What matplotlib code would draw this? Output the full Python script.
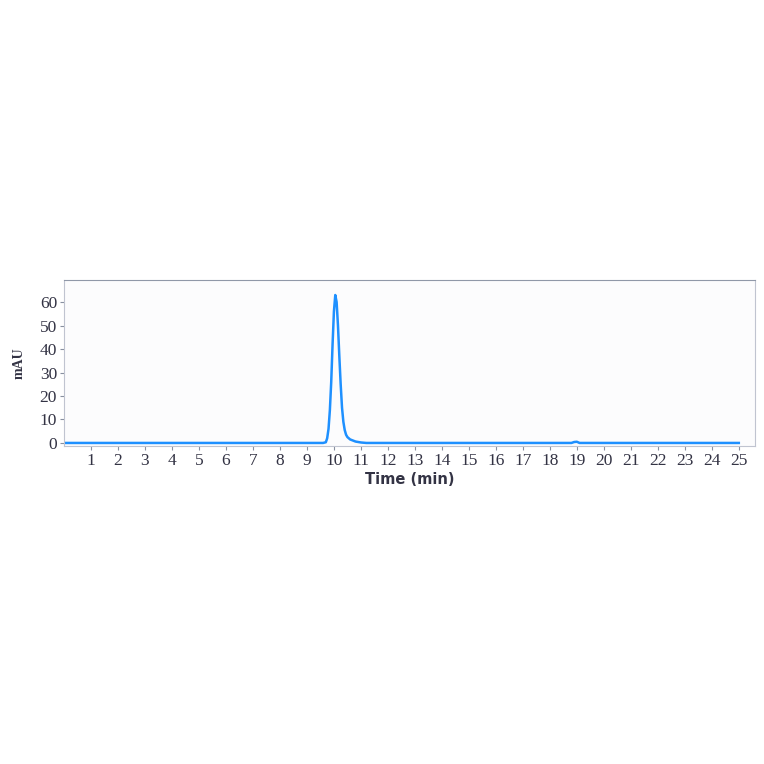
import matplotlib
matplotlib.use("Agg")
import matplotlib.pyplot as plt

# Chromatogram data
time_min = [0, 9.6, 9.7, 9.75, 9.8, 9.85, 9.9, 9.95, 10.0, 10.05, 10.1, 10.15, 10.2,
            10.25, 10.3, 10.35, 10.4, 10.45, 10.5, 10.6, 10.8, 11.0, 11.2,
            18.8, 18.9, 19.0, 19.1, 25]
absorbance = [0, 0, 0.3, 2, 6, 14, 26, 42, 56, 63, 60, 50, 37,
              25, 15, 9, 5.5, 3.5, 2.5, 1.5, 0.6, 0.2, 0,
              0, 0.4, 0.5, 0, 0]
x_ticks = list(range(1, 26))
y_ticks = [0, 10, 20, 30, 40, 50, 60]

fig = plt.figure(figsize=(7.64, 7.64), dpi=100)
fig.patch.set_facecolor("white")
ax = fig.add_axes([64/764, 1-446/764, (755-64)/764, (446-280)/764])
ax.set_facecolor("#fcfcfd")
ax.plot(time_min, absorbance, color="#1e90ff", lw=1.8, solid_joinstyle="round")
ax.set_xlim(0, 25.6)
ax.set_ylim(-1.3, 69.4)
ax.set_xticks(x_ticks)
ax.set_yticks(y_ticks)
for lab in ax.get_xticklabels() + ax.get_yticklabels():
    lab.set_fontfamily("Liberation Serif")
    lab.set_fontsize(12.5)
    lab.set_color("#333344")
ax.tick_params(axis="both", length=3, color="#8890a0", pad=2)
for s in ax.spines.values():
    s.set_color("#c0c4d0")
    s.set_linewidth(0.8)
ax.spines["top"].set_color("#9098a8")
ax.set_xlabel("Time (min)", fontsize=10.5, color="#333344", family="DejaVu Sans",
              fontweight="semibold", labelpad=2)
ax.set_ylabel("mAU", fontsize=10, color="#333344", family="Liberation Serif",
              fontweight="bold", labelpad=10)
fig.savefig("out.png", dpi=100)
